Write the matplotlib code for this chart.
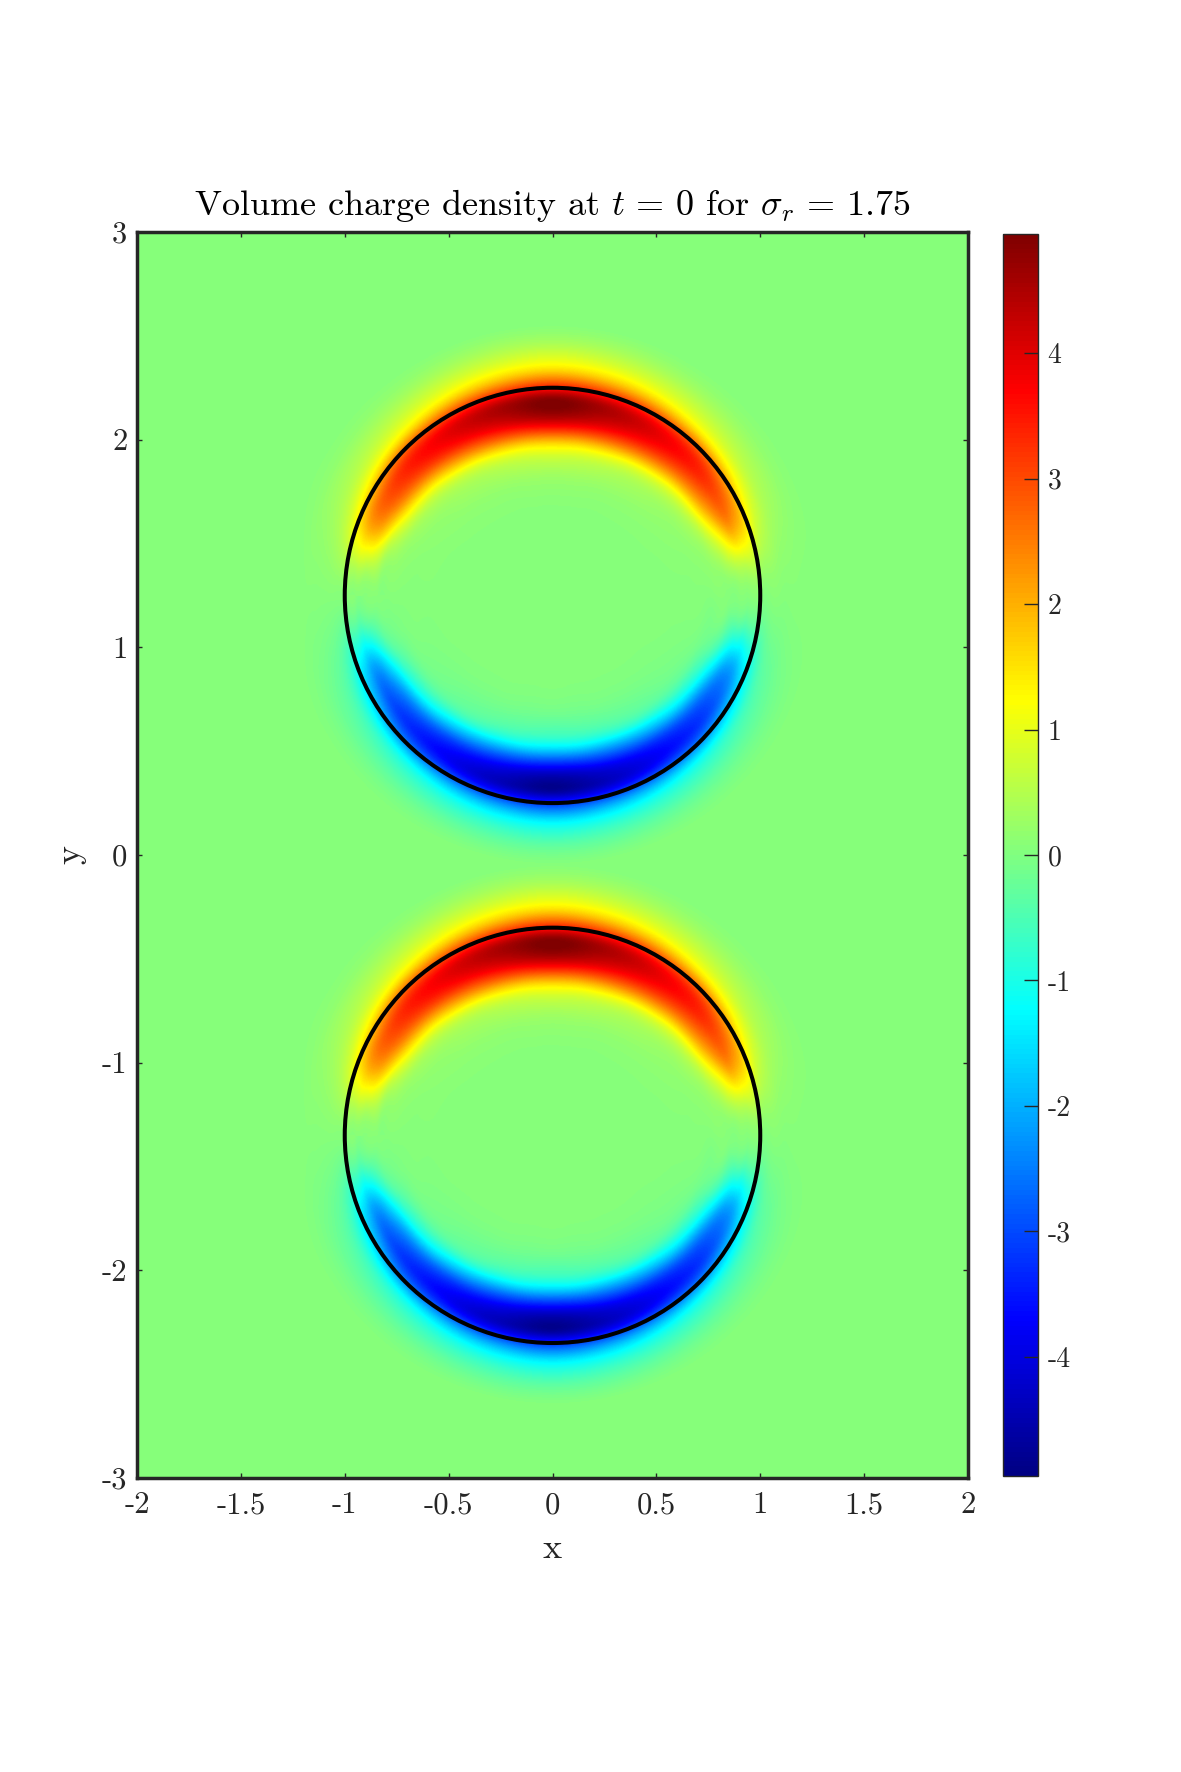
import numpy as np
from matplotlib import pyplot as plt
from matplotlib import tri
from matplotlib.patches import Circle
from matplotlib.cm import ScalarMappable
from matplotlib.colors import Normalize, LinearSegmentedColormap

plt.rcParams['font.family'] = ['cmr10', 'DejaVu Sans']
plt.rcParams['mathtext.fontset'] = 'cm'
plt.rcParams['axes.unicode_minus'] = False
plt.rcParams['axes.formatter.use_mathtext'] = True

DARK = '#262626'

# circle centres on the y axis, radius 1
centers_y = [1.25, -1.35]
radius = 1.0

# charge density, polar around a circle centre
# angle measured from the top of the circle, upper half only,
# lower half has the opposite sign. values are relative to the background
rho_background = 0.06
angles_deg = [0, 10, 20, 30, 40, 50, 60, 70, 80, 90]
radii = [0.4, 0.55, 0.65, 0.72, 0.78, 0.84, 0.90, 0.95, 1.0, 1.05, 1.1, 1.15, 1.2, 1.3]
rho_0 = [0.0, 0.15, 0.55, 1.30, 2.70, 4.10, 4.85, 4.70, 3.40, 2.20, 1.30, 0.80, 0.42, 0.0]
rho_10 = [0.0, 0.15, 0.50, 1.20, 2.55, 3.90, 4.60, 4.50, 3.30, 2.10, 1.25, 0.75, 0.40, 0.0]
rho_20 = [0.0, 0.12, 0.42, 1.05, 2.30, 3.55, 4.25, 4.20, 3.15, 1.95, 1.15, 0.68, 0.36, 0.0]
rho_30 = [0.0, 0.10, 0.32, 0.80, 1.95, 3.20, 3.90, 3.85, 2.90, 1.75, 1.00, 0.60, 0.30, 0.0]
rho_40 = [0.0, 0.08, 0.25, 0.60, 1.55, 2.80, 3.55, 3.50, 2.65, 1.50, 0.85, 0.50, 0.25, 0.0]
rho_50 = [0.0, 0.06, 0.17, 0.42, 1.15, 2.40, 3.20, 3.15, 2.30, 1.25, 0.68, 0.40, 0.20, 0.0]
rho_60 = [0.0, 0.04, 0.11, 0.28, 0.85, 1.95, 2.75, 2.60, 1.75, 0.95, 0.50, 0.30, 0.15, 0.0]
rho_70 = [0.0, 0.02, 0.06, 0.14, 0.40, 1.05, 1.90, 1.80, 1.20, 0.60, 0.32, 0.18, 0.09, 0.0]
rho_80 = [0.0, 0.01, 0.02, 0.05, 0.12, 0.28, 0.55, 0.60, 0.45, 0.25, 0.13, 0.07, 0.03, 0.0]
rho_90 = [0.0, 0.00, 0.00, 0.00, 0.00, 0.00, 0.00, 0.00, 0.00, 0.00, 0.00, 0.00, 0.00, 0.0]
rho_upper = [rho_0, rho_10, rho_20, rho_30, rho_40, rho_50, rho_60, rho_70, rho_80, rho_90]

rho_min, rho_max = -4.95, 4.95
x_ticks = [-2, -1.5, -1, -0.5, 0, 0.5, 1, 1.5, 2]
y_ticks = [-3, -2, -1, 0, 1, 2, 3]
cbar_ticks = [-4, -3, -2, -1, 0, 1, 2, 3, 4]

# jet as MATLAB has it
jet_stops = [(0.0, (0, 0, 0.516)), (0.125, (0, 0, 1)), (0.375, (0, 1, 1)),
             (0.625, (1, 1, 0)), (0.875, (1, 0, 0)), (1.0, (0.5, 0, 0))]


def polar_field():
    # nodes on a regular angle/radius grid, seam on the side where rho is flat
    ts, rs, zs = [], [], []
    step = angles_deg[1] - angles_deg[0]
    for a in range(-90, 270 + step, step):
        if a <= 90:
            row, sign = rho_upper[abs(a) // step], 1
        else:
            row, sign = rho_upper[abs(180 - a) // step], -1
        for r, v in zip(radii, row):
            ts.append(a / step)
            rs.append(r / 0.07)
            zs.append(rho_background + sign * v)
    return np.array(ts), np.array(rs), np.array(zs)


fig = plt.figure(figsize=(11.81, 17.72), dpi=100)
W, H = 1181.0, 1772.0
ax = fig.add_axes([137 / W, 1 - 1478 / H, 831 / W, 1246 / H])
cax = fig.add_axes([1003 / W, 1 - 1476 / H, 35 / W, 1242 / H])

norm = Normalize(rho_min, rho_max)
cmap = LinearSegmentedColormap.from_list('matlab_jet', jet_stops, N=256)
ax.set_facecolor(cmap(norm(rho_background)))

# refine in angle/radius space, then bend the fine mesh round the circle
pt, pr, pz = polar_field()
grid = tri.Triangulation(pt, pr)
fine, fine_z = tri.UniformTriRefiner(grid).refine_field(pz, subdiv=4)
fine_t = np.deg2rad(fine.x * 10)
fine_r = fine.y * 0.07
levels = np.linspace(rho_min, rho_max, 257)
for yc in centers_y:
    bent = tri.Triangulation(fine_r * np.sin(fine_t), fine_r * np.cos(fine_t) + yc, fine.triangles)
    ax.tricontourf(bent, fine_z, levels=levels, cmap=cmap, norm=norm, extend='both')
    ax.add_patch(Circle((0, yc), radius, fill=False, ec='black', lw=2.9, zorder=5))

ax.set_xlim(-2, 2)
ax.set_ylim(-3, 3)
ax.set_xticks(x_ticks)
ax.set_xticklabels(['%g' % v for v in x_ticks])
ax.set_yticks(y_ticks)
ax.set_yticklabels(['%g' % v for v in y_ticks])
ax.tick_params(direction='in', top=True, right=True, length=3.5, width=1, color=DARK,
               labelcolor=DARK, labelsize=22, pad=7)
ax.tick_params(axis='x', pad=10)
for s in ax.spines.values():
    s.set_linewidth(2.5)
    s.set_color(DARK)
ax.set_xlabel('x', fontsize=26, color=DARK, labelpad=10)
ax.set_ylabel('y', fontsize=26, color=DARK, labelpad=11)
ax.set_title(r'Volume charge density at $t\,=\,0$ for $\sigma_r\,=\,1.75$', fontsize=26, pad=12)

cb = fig.colorbar(ScalarMappable(norm=norm, cmap=cmap), cax=cax)
cb.set_ticks(cbar_ticks)
cb.set_ticklabels(['%g' % v for v in cbar_ticks])
cb.ax.tick_params(direction='in', length=10, width=1, color=DARK, labelcolor=DARK,
                  labelsize=20, pad=7)
cb.outline.set_linewidth(1)
cb.outline.set_edgecolor(DARK)

fig.savefig('out.png', dpi=100)
